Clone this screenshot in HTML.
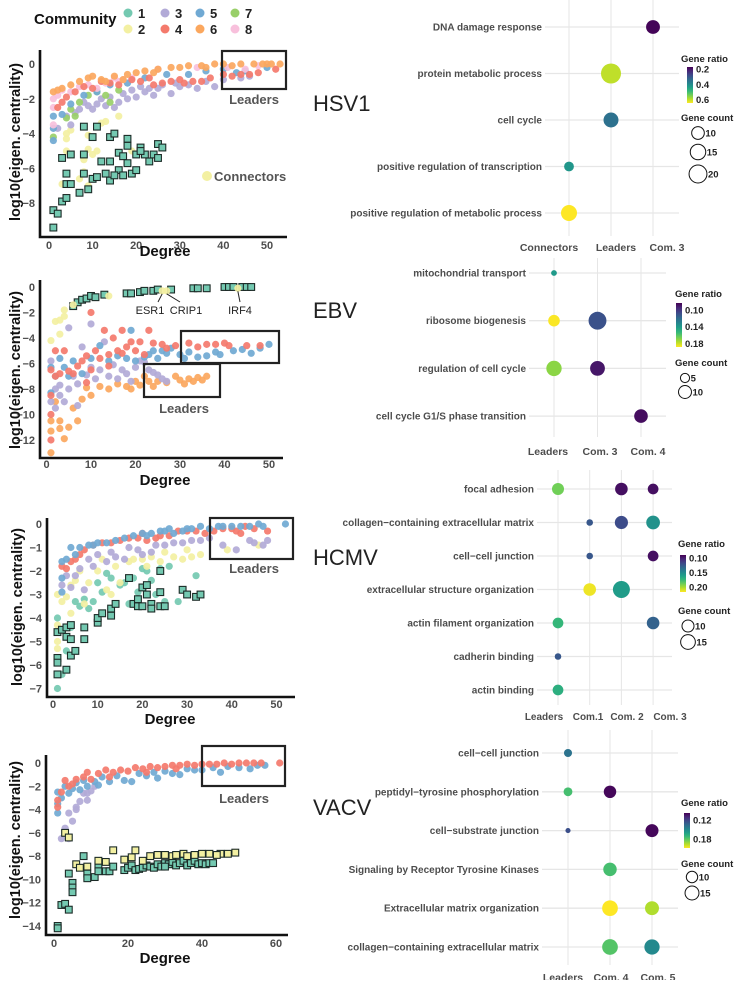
<!DOCTYPE html>
<html><head><meta charset="utf-8">
<style>
body{margin:0;background:#fff;}
svg text{font-family:"Liberation Sans",Arial,sans-serif;}
</style></head>
<body>
<svg id="fig" width="736" height="980" viewBox="0 0 736 980" xmlns="http://www.w3.org/2000/svg"></svg>
<script>
// ===== Scatter data: [degree, log10(eigen centrality)] =====
const hsv_c6=[[1,-1.6],[2,-1.5],[3,-1.4],[5,-1.2],[7,-1],[9,-0.8],[10,-0.7],[12,-0.9],[15,-0.7],[18,-0.6],[20,-0.5],[22,-0.4],[25,-0.3],[28,-0.2],[30,-0.2],[32,-0.1],[35,-0.1],[38,0],[40,0],[42,-0.1],[44,0],[47,0],[49,0],[50,0],[51,0],[53,0],[17,-0.9],[13,-1.0],[24,-0.5],[36,-0.2]];
const hsv_c4=[[2,-2.5],[3,-2.2],[4,-1.9],[6,-1.6],[8,-1.3],[10,-1.4],[12,-1.0],[14,-1.1],[16,-1.2],[19,-0.9],[21,-1.0],[23,-0.8],[26,-1.1],[28,-1.0],[30,-0.9],[33,-1.0],[35,-1.0],[37,-0.8],[40,-0.6],[42,-0.7],[44,-0.6],[46,-0.6],[48,-0.5],[52,-0.3],[24,-1.2],[31,-1.1]];
const hsv_c5=[[1,-3.0],[1,-3.7],[1,-4.4],[3,-2.9],[5,-2.3],[8,-1.8],[11,-1.6],[14,-1.2],[18,-1.1],[22,-0.8],[27,-0.6],[32,-0.6],[36,-0.4],[40,-0.3],[43,-0.5],[45,-0.4],[50,-0.2]];
const hsv_c8=[[1,-2.0],[1,-2.5],[1,-3.5],[2,-1.8],[3,-1.5],[5,-1.6],[7,-1.3],[9,-1.2],[11,-1.4],[13,-1.1],[15,-0.8],[16,-1.0],[17,-0.9],[19,-0.8],[25,-0.3],[34,-0.2],[41,-0.2],[45,-0.3],[48,-0.1]];
const hsv_c7=[[1,-4.2],[4,-3.1],[5,-2.6],[6,-3.0],[7,-2.2],[9,-1.8],[11,-1.6],[13,-1.8],[14,-2.2],[16,-1.5]];
const hsv_c3=[[2,-3.7],[4,-3.0],[5,-3.5],[6,-2.8],[7,-2.6],[8,-2.2],[9,-2.4],[10,-2.6],[11,-2.3],[12,-2.0],[13,-2.4],[14,-1.9],[15,-2.5],[16,-2.2],[17,-1.7],[18,-2.0],[19,-1.5],[20,-1.9],[21,-1.3],[22,-1.6],[23,-1.4],[24,-1.8],[25,-1.4],[26,-1.2],[28,-1.7],[29,-1.1],[30,-1.3],[32,-1.2],[34,-1.4],[36,-1.0],[38,-1.3],[40,-0.9],[44,-0.8],[46,-0.7]];
const hsv_c2=[[3,-6.9],[4,-4.0],[4,-4.3],[4,-5.0],[5,-3.8],[7,-6.6],[8,-5.5],[9,-4.1],[9,-4.9],[9,-7.0],[10,-5.2],[11,-5.0],[12,-3.4],[13,-3.3],[16,-3.0],[19,-5.0],[8,-6.2]];
const hsv_s1=[[1,-8.4],[1,-9.4],[2,-8.6],[3,-7.9],[3,-5.4],[4,-6.3],[4,-7.7],[4,-6.9],[5,-5.2],[5,-6.9],[7,-7.4],[8,-3.6],[8,-5.2],[8,-6.3],[9,-7.2],[10,-4.2],[10,-6.6],[11,-3.6],[11,-6.5],[12,-5.6],[13,-6.3],[14,-4.2],[14,-5.6],[14,-6.7],[15,-4.0],[16,-5.1],[16,-6.1],[17,-5.3],[17,-6.4],[18,-4.3],[18,-4.7],[18,-5.7],[19,-6.3],[20,-5.2],[20,-6.1],[21,-4.8],[22,-5.2],[23,-5.6],[24,-5.2],[25,-5.4],[25,-4.6],[26,-4.8],[21,-5.0],[15,-6.4]];

const ebv_c4=[[1,-6.5],[1,-8.5],[1,-10],[1,-12],[2,-5],[2,-7],[3,-6.8],[4,-5],[5,-6.6],[6,-6.8],[7,-6.2],[8,-5.8],[9,-5.4],[10,-2],[10,-6.5],[11,-5],[12,-5.6],[13,-3.4],[14,-5.3],[15,-4],[16,-5],[17,-3.4],[17,-5.2],[18,-4.7],[19,-4.3],[20,-5],[21,-4.3],[22,-5.3],[23,-3.4],[24,-4.4],[26,-4.5],[27,-4.8],[29,-4.6],[32,-4.4],[34,-4.7],[36,-4.5],[38,-4.5],[40,-4.4],[41,-4.6],[45,-4.6],[48,-4.6],[14,-6.2],[9,-7.5]];
const ebv_c5=[[1,-6.3],[1,-8.3],[2,-7],[3,-5.6],[4,-6.3],[5,-7],[6,-5.8],[8,-6.8],[10,-5.6],[12,-4.6],[14,-5.8],[16,-5.4],[18,-5.6],[19,-3.4],[20,-5.8],[22,-5.5],[23,-5.3],[24,-5],[25,-5.6],[26,-5],[27,-5.2],[28,-4.8],[30,-5.3],[31,-5.6],[32,-5.1],[34,-5.5],[36,-5.4],[38,-5.1],[39,-5.3],[42,-5],[44,-4.9],[46,-5.2],[50,-4.5],[48,-4.8]];
const ebv_c3=[[1,-5.8],[1,-9],[2,-8],[2,-9.5],[3,-7.7],[4,-9],[5,-8],[5,-3.2],[6,-7],[7,-7.6],[8,-4.7],[9,-6.9],[10,-6.3],[10,-2.9],[11,-7.2],[12,-6.5],[13,-4.3],[14,-7],[15,-6.1],[16,-7.2],[17,-6.5],[18,-6.8],[19,-7.4],[20,-6.3],[21,-5.8],[22,-5.9],[23,-6.5],[24,-6.7],[25,-6.9],[26,-7.2],[27,-7.4],[3,-8.5],[7,-9.3]];
const ebv_c6=[[1,-13],[1,-11.3],[1,-10.5],[2,-9],[3,-10.5],[4,-11.9],[5,-11],[6,-9.5],[7,-10.5],[8,-8.8],[9,-7.9],[10,-8.5],[12,-7.8],[14,-8.0],[16,-7.6],[18,-7.8],[19,-8.0],[20,-7.4],[21,-7.7],[22,-7.0],[23,-7.4],[24,-7.8],[25,-7.4],[27,-7.5],[29,-7.0],[30,-7.3],[31,-7.6],[32,-7.2],[33,-7.4],[34,-7.1],[35,-7.3],[36,-7.0],[3,-11.1]];
const ebv_s1=[[6,-1.5],[7,-1.2],[8,-1.0],[9,-0.9],[10,-0.7],[11,-0.8],[13,-0.6],[18,-0.5],[19,-0.5],[21,-0.4],[22,-0.3],[24,-0.3],[25,-0.2],[28,-0.2],[33,-0.1],[34,-0.1],[36,-0.1],[40,0],[41,0],[42,0],[44,0],[45,0],[46,0]];
const ebv_c2=[[1,-4.2],[2,-2.7],[3,-2.6],[3,-3.7],[4,-1.8],[4,-2.3],[6,-1.4],[14,-0.7],[26,-0.3],[27,-0.3],[43,-0.1]];
const ebvGenes=["ESR1","CRIP1","IRF4"];
const ebvGenePts=[[26,-0.3],[27,-0.3],[43,-0.1]];

const hcmv_c5=[[2,-1.6],[2,-2.3],[3,-1.5],[4,-1.0],[5,-1.3],[6,-1.0],[8,-0.9],[9,-0.9],[10,-0.8],[12,-0.8],[14,-0.7],[16,-0.6],[18,-0.5],[20,-0.4],[21,-0.5],[22,-0.4],[24,-0.3],[25,-0.3],[26,-0.2],[27,-0.4],[29,-0.3],[30,-0.2],[31,-0.2],[33,-0.1],[35,-0.2],[37,-0.1],[38,-0.1],[40,-0.1],[42,-0.1],[44,-0.1],[46,0],[47,-0.1],[52,0],[2,-2.9]];
const hcmv_c4=[[2,-1.8],[3,-1.9],[4,-1.6],[5,-1.5],[6,-1.3],[7,-1.1],[9,-0.9],[11,-0.8],[13,-0.8],[15,-0.7],[17,-0.6],[19,-0.6],[20,-0.4],[21,-0.7],[23,-0.6],[24,-0.5],[26,-0.5],[28,-0.3],[30,-0.3],[32,-0.3],[34,-0.4],[36,-0.3],[38,-0.2],[40,-0.2],[41,-0.3],[43,-0.1],[45,-0.2],[48,-0.3],[42,-0.4]];
const hcmv_c3=[[2,-2.6],[3,-2.2],[4,-2.7],[5,-2.2],[6,-1.9],[7,-2.8],[8,-1.5],[9,-1.8],[10,-1.3],[12,-1.6],[13,-1.2],[14,-1.4],[16,-1.5],[17,-1.0],[19,-1.1],[20,-1.3],[22,-1.2],[23,-0.9],[25,-0.9],[27,-0.8],[29,-0.8],[31,-0.7],[33,-0.7],[35,-0.6],[38,-0.9],[44,-0.7],[45,-0.8],[47,-0.9],[41,-1.1],[48,-0.7]];
const hcmv_c2=[[1,-3.0],[1,-4.3],[1,-5.0],[1,-5.3],[2,-3.3],[3,-3.1],[4,-2.6],[4,-3.8],[5,-2.4],[6,-2.0],[7,-3.4],[8,-2.5],[10,-2.0],[11,-1.5],[12,-2.8],[14,-1.8],[15,-2.5],[17,-1.6],[18,-1.5],[20,-1.5],[21,-1.8],[22,-1.4],[24,-1.6],[25,-1.2],[27,-1.4],[29,-1.5],[30,-1.1],[31,-1.4],[33,-1.3],[39,-1.1],[46,-0.9],[13,-3.0]];
const hcmv_c1=[[1,-4.0],[1,-7.0],[2,-6.4],[3,-5.4],[4,-4.4],[5,-3.3],[6,-3.5],[7,-3.2],[8,-3.6],[9,-3.3],[10,-2.5],[11,-2.9],[12,-2.1],[13,-2.3],[15,-2.6],[16,-2.5],[17,-3.4],[18,-2.3],[19,-2.9],[20,-1.9],[21,-2.0],[22,-2.4],[23,-3.0],[24,-1.9],[25,-3.3],[26,-1.8],[28,-3.3],[32,-2.2],[3,-4.8]];
const hcmv_s1=[[1,-4.6],[1,-5.7],[1,-5.9],[1,-6.4],[2,-4.5],[3,-4.4],[3,-4.8],[3,-6.2],[4,-4.3],[4,-4.9],[4,-5.6],[5,-5.4],[7,-4.4],[7,-4.9],[10,-4.2],[10,-4.0],[11,-3.8],[13,-3.6],[13,-3.9],[14,-3.4],[17,-2.3],[18,-3.4],[19,-3.5],[20,-2.7],[20,-3.5],[21,-3.0],[22,-3.4],[22,-3.6],[24,-3.5],[24,-2.9],[25,-3.5],[24,-2.0],[29,-2.8],[30,-3.0],[32,-3.1],[33,-3.0],[19,-3.2],[21,-2.6]];

const vacv_c4=[[1,-3.2],[1,-3.8],[2,-2.5],[3,-1.5],[4,-2.0],[5,-1.8],[6,-1.4],[8,-1.2],[9,-0.8],[10,-1.4],[12,-0.9],[14,-0.6],[16,-0.8],[18,-0.6],[20,-0.7],[22,-0.4],[24,-0.5],[26,-0.3],[28,-0.4],[30,-0.3],[32,-0.2],[34,-0.2],[36,-0.1],[38,-0.2],[40,-0.1],[42,-0.1],[44,-0.1],[46,0],[48,-0.1],[50,0],[52,0],[54,0],[56,0],[61,0],[25,-0.8],[33,-0.5],[15,-1.2]];
const vacv_c5=[[1,-2.5],[1,-3.5],[1,-4.3],[2,-3.0],[3,-2.0],[4,-2.6],[5,-2.2],[6,-1.7],[7,-2.3],[8,-1.5],[9,-2.0],[11,-1.6],[13,-1.2],[15,-1.6],[17,-1.1],[19,-1.5],[21,-1.6],[23,-0.9],[25,-1.1],[27,-0.8],[28,-1.3],[30,-0.7],[32,-0.9],[34,-1.0],[36,-0.5],[38,-0.6],[40,-0.6],[43,-0.4],[45,-0.8],[47,-0.3],[50,-0.4],[53,-0.5],[55,-0.2],[57,-0.2],[12,-1.9]];
const vacv_c3=[[2,-6.5],[3,-5.6],[4,-4.3],[5,-5.0],[6,-3.8],[6,-4.0],[7,-3.3],[8,-2.6],[9,-2.6],[9,-3.2],[10,-2.4],[11,-2.0],[4,-6.5]];
const vacv_s1=[[1,-14],[1,-14.2],[2,-12.2],[3,-12.1],[4,-12.6],[4,-9.5],[5,-10.3],[5,-10.7],[5,-11.1],[8,-8.0],[9,-9.5],[9,-9.9],[11,-9.8],[12,-8.8],[12,-9.3],[14,-9.3],[15,-9.3],[16,-8.9],[19,-9.2],[20,-9.0],[21,-8.8],[22,-9.2],[23,-9.1],[24,-9.0],[25,-8.8],[26,-8.9],[27,-9.0],[28,-8.7],[29,-8.9],[30,-8.6],[31,-8.7],[32,-8.5],[33,-8.8],[34,-8.6],[35,-8.4],[36,-8.8],[37,-8.6],[38,-8.4],[39,-8.7],[40,-8.6],[41,-8.7],[42,-8.6],[43,-8.6],[30,-8.9]];
const vacv_s2=[[3,-6.0],[4,-6.4],[6,-8.7],[7,-9.0],[9,-8.9],[12,-8.4],[14,-8.5],[16,-7.5],[19,-8.3],[21,-8.1],[22,-7.5],[24,-8.4],[26,-8.0],[28,-7.9],[30,-7.9],[32,-8.0],[33,-7.9],[35,-7.8],[36,-8.0],[38,-7.9],[40,-7.8],[42,-7.8],[45,-7.8],[47,-7.8],[49,-7.7],[44,-7.9]];

// ===== Dot-plot data =====
const hsvTerms=["DNA damage response","protein metabolic process","cell cycle","positive regulation of transcription","positive regulation of metabolic process"];
const hsvGroups=["Connectors","Leaders","Com. 3"];
const hsvDotRow=[0,1,2,3,4];
const hsvDotCol=[2,1,1,0,0];
const hsvRatio=[0.18,0.6,0.35,0.42,0.645];
const hsvCount=[12,25,14,6,16];

const ebvTerms=["mitochondrial transport","ribosome biogenesis","regulation of cell cycle","cell cycle G1/S phase transition"];
const ebvGroups=["Leaders","Com. 3","Com. 4"];
const ebvDotRow=[0,1,1,2,2,3];
const ebvDotCol=[0,0,1,0,1,2];
const ebvRatio=[0.14,0.188,0.11,0.17,0.09,0.087];
const ebvCount=[2,8,19,14,13,11];

const hcmvTerms=["focal adhesion","collagen\u2212containing extracellular matrix","cell\u2212cell junction","extracellular structure organization","actin filament organization","cadherin binding","actin binding"];
const hcmvGroups=["Leaders","Com.1","Com. 2","Com. 3"];
const hcmvDotRow=[0,0,0,1,1,1,2,2,3,3,4,4,5,6];
const hcmvDotCol=[0,2,3,1,2,3,1,3,1,2,0,3,0,0];
const hcmvRatio=[0.19,0.095,0.095,0.125,0.12,0.155,0.125,0.095,0.215,0.16,0.175,0.13,0.125,0.17];
const hcmvCount=[10,11,8,3,12,13,3,8,11,20,8,11,3,8];

const vacvTerms=["cell\u2212cell junction","peptidyl\u2212tyrosine phosphorylation","cell\u2212substrate junction","Signaling by Receptor Tyrosine Kinases","Extracellular matrix organization","collagen\u2212containing extracellular matrix"];
const vacvGroups=["Leaders","Com. 4","Com. 5"];
const vacvDotRow=[0,1,1,2,2,3,4,4,5,5];
const vacvDotCol=[0,0,1,0,2,1,1,2,1,2];
const vacvRatio=[0.14,0.175,0.1,0.125,0.1,0.175,0.208,0.195,0.178,0.15];
const vacvCount=[5,6,12,2,13,14,19,15,19,18];

// ===== helpers =====
const NS="http://www.w3.org/2000/svg";
const svg=document.getElementById('fig');
function mk(tag,attrs,parent){const e=document.createElementNS(NS,tag);for(const k in attrs)e.setAttribute(k,attrs[k]);(parent||svg).appendChild(e);return e;}
function txt(s,x,y,attrs,parent){const e=mk('text',Object.assign({x:x,y:y},attrs),parent);e.textContent=s;return e;}
const COL={1:'#74c9b1',2:'#f3f0a2',3:'#b2aad7',4:'#f47a6c',5:'#70a9d3',6:'#fba75e',7:'#99cf69',8:'#f8c0dc'};
const VIR=['#440154','#482878','#3e4989','#31688e','#26828e','#1f9e89','#35b779','#6ece58','#b5de2b','#fde725'];
function hex(c){return [parseInt(c.slice(1,3),16),parseInt(c.slice(3,5),16),parseInt(c.slice(5,7),16)];}
function viridis(t){t=Math.max(0,Math.min(1,t));const p=t*(VIR.length-1);const i=Math.min(Math.floor(p),VIR.length-2);const f=p-i;const a=hex(VIR[i]),b=hex(VIR[i+1]);return 'rgb('+a.map((v,k)=>Math.round(v+(b[k]-v)*f)).join(',')+')';}

function scatter(cfg){
  const g=mk('g',{});
  
  
  const X=d=>cfg.x0+d*cfg.xs, Y=v=>cfg.y0-v*cfg.ys;
  cfg.series.forEach(s=>{
    s.data.forEach(p=>{
      let el;
      if(s.square){el=mk('rect',{x:X(p[0])-3.4,y:Y(p[1])-3.4,width:6.8,height:6.8,fill:COL[s.c],stroke:'#1c2b27','stroke-width':1.1},g);}
      else{el=mk('circle',{cx:X(p[0]),cy:Y(p[1]),r:3.6,fill:COL[s.c],'fill-opacity':0.92},g);}
      
      
    });
  });
  const ax=mk('path',{d:`M${cfg.left},${cfg.top} V${cfg.bottom} H${cfg.right}`,fill:'none',stroke:'#111','stroke-width':2.6},g);
  
  
  cfg.xticks.forEach(t=>{const e=txt(t,X(t),cfg.xlabY,{'text-anchor':'middle','font-size':11,'font-weight':'bold',fill:'#4d4d4d'},g);
    
    });
  cfg.yticks.forEach(t=>{const e=txt(t===0?'0':'\u2212'+Math.abs(t),cfg.left-5,Y(t)+4,{'text-anchor':'end','font-size':11,'font-weight':'bold',fill:'#4d4d4d'},g);
    
    });
  const xt=txt('Degree',cfg.xtitleX,cfg.xtitleY,{'text-anchor':'middle','font-size':15,'font-weight':'bold',fill:'#111'},g);
  
  
  const yt=txt('log10(eigen. centrality)',0,0,{'text-anchor':'middle','font-size':14.5,'font-weight':'bold',fill:'#111',transform:`translate(${cfg.ytitleX},${cfg.ytitleY}) rotate(-90)`},g);
  
  
  cfg.boxes.forEach(b=>{const r=mk('rect',{x:b[0],y:b[1],width:b[2]-b[0],height:b[3]-b[1],fill:'none',stroke:'#222','stroke-width':2.2},g);
    
    });
  const lt=txt('Leaders',cfg.leadX,cfg.leadY,{'text-anchor':'middle','font-size':13,'font-weight':'bold',fill:'#555'},g);
  
  
  const pl=txt(cfg.title,313,cfg.titleY,{'font-size':22,fill:'#222'},g);
  
  
  return {g,X,Y};
}

function dotplot(cfg){
  const g=mk('g',{});
  
  
  const rowY=i=>cfg.rowTop+i*cfg.rowStep, colX=j=>cfg.colLeft+j*cfg.colStep;
  const rad=c=>cfg.k*Math.sqrt(c);
  const col=r=>viridis((r-cfg.rmin)/(cfg.rmax-cfg.rmin));
  cfg.groups.forEach((s,j)=>{const l=mk('line',{x1:colX(j),x2:colX(j),y1:cfg.vTop,y2:cfg.vBot,stroke:'#e6e6e6','stroke-width':1},g);
    
    });
  cfg.terms.forEach((s,i)=>{const l=mk('line',{x1:cfg.labelX+3,x2:cfg.gridR,y1:rowY(i),y2:rowY(i),stroke:'#e6e6e6','stroke-width':1.3},g);
    
    
    const t=txt(s,cfg.labelX,rowY(i)+3.5,{'text-anchor':'end','font-size':10,'font-weight':'bold',fill:'#4d4d4d'},g);
    
    });
  cfg.groups.forEach((s,j)=>{const t=txt(s,cfg.glabX[j],cfg.glabY,{'text-anchor':'middle','font-size':cfg.gfs,'font-weight':'bold',fill:'#4d4d4d'},g);
    
    });
  cfg.row.forEach((r,i)=>{const c=mk('circle',{cx:colX(cfg.col[i]),cy:rowY(r),r:rad(cfg.count[i]),fill:col(cfg.ratio[i])},g);
    
    });
  const L=cfg.leg;
  const t1=txt('Gene ratio',L.x,L.y,{'font-size':9.5,'font-weight':'bold',fill:'#222'},g);
  
  
  const gid='grad'+cfg.name;
  const defs=mk('defs',{},g);const lg=mk('linearGradient',{id:gid,x1:0,y1:0,x2:0,y2:1},defs);
  VIR.forEach((c,i)=>mk('stop',{offset:(i/(VIR.length-1)),'stop-color':c},lg));
  const bar=mk('rect',{x:L.bx,y:L.by0,width:6,height:L.by1-L.by0,fill:`url(#${gid})`},g);
  
  
  L.ticks.forEach(t=>{const yy=L.by0+(t-cfg.rmin)/(cfg.rmax-cfg.rmin)*(L.by1-L.by0);
    const e=txt(t.toFixed(L.dec),L.bx+9,yy+3.5,{'font-size':9.5,'font-weight':'bold',fill:'#222'},g);
    
    });
  const t2=txt('Gene count',L.x,L.cy,{'font-size':9.5,'font-weight':'bold',fill:'#222'},g);
  
  
  L.sizes.forEach((s,i)=>{const yy=L.sy[i];
    const c=mk('circle',{cx:L.sx,cy:yy,r:rad(s),fill:'none',stroke:'#111','stroke-width':1},g);
    
    
    const e=txt(String(s),L.sx+rad(s)+1,yy+3.5,{'font-size':9.5,'font-weight':'bold',fill:'#222'},g);
    
    });
}

// ===== HSV1 legend =====
const lgd=mk('g',{});


const lt=txt('Community',34,24,{'font-size':15,'font-weight':'bold',fill:'#111'},lgd);


[[1,128,13],[2,128,29],[3,165,13],[4,165,29],[5,200,13],[6,200,29],[7,235,13],[8,235,29]].forEach(e=>{
  const c=mk('circle',{cx:e[1],cy:e[2],r:4.5,fill:COL[e[0]]},lgd);
  
  
  const t=txt(String(e[0]),e[1]+10,e[2]+5,{'font-size':13,'font-weight':'bold',fill:'#222'},lgd);
  
  
});

// ===== Panels =====
scatter({name:'hsv1-scatter',title:'HSV1',titleY:111,x0:49,xs:4.36,y0:64,ys:17.4,left:40,top:50,bottom:237,right:287,
  xticks:[0,10,20,30,40,50],yticks:[0,-2,-4,-6,-8],xlabY:249,xtitleX:165,xtitleY:256,ytitleX:20,ytitleY:142,
  boxes:[[222,51,286,89]],leadX:254,leadY:104,
  series:[{data:hsv_c2,c:2},{data:hsv_c3,c:3},{data:hsv_c7,c:7},{data:hsv_c5,c:5},{data:hsv_c8,c:8},{data:hsv_c4,c:4},{data:hsv_c6,c:6},{data:hsv_s1,c:1,square:true}]});
const cd=mk('circle',{cx:207,cy:176,r:5,fill:COL[2]});


const ct=txt('Connectors',214,181,{'font-size':13,'font-weight':'bold',fill:'#555'});



const p2=scatter({name:'ebv-scatter',title:'EBV',titleY:318,x0:46.5,xs:4.45,y0:287,ys:12.75,left:40,top:280,bottom:458,right:283,
  xticks:[0,10,20,30,40,50],yticks:[0,-2,-4,-6,-8,-10,-12],xlabY:468,xtitleX:165,xtitleY:485,ytitleX:20,ytitleY:370,
  boxes:[[181,331,279,363],[144,364,220,397]],leadX:184,leadY:413,
  series:[{data:ebv_c6,c:6},{data:ebv_c3,c:3},{data:ebv_c5,c:5},{data:ebv_c4,c:4},{data:ebv_s1,c:1,square:true},{data:ebv_c2,c:2}]});
ebvGenes.forEach((s,i)=>{const p=ebvGenePts[i];const lx=[150,186,240][i];
  const l=mk('line',{x1:p2.X(p[0]),y1:p2.Y(p[1])+3,x2:lx+(i===0?8:(i===1?-6:0)),y2:302,stroke:'#222','stroke-width':1});
  
  
  const t=txt(s,lx,314,{'text-anchor':'middle','font-size':11,fill:'#222'});
  
  });

scatter({name:'hcmv-scatter',title:'HCMV',titleY:565,x0:53,xs:4.47,y0:524,ys:23.5,left:47,top:518,bottom:697,right:295,
  xticks:[0,10,20,30,40,50],yticks:[0,-1,-2,-3,-4,-5,-6,-7],xlabY:708,xtitleX:170,xtitleY:724,ytitleX:22,ytitleY:607,
  boxes:[[210,518,293,559]],leadX:254,leadY:573,
  series:[{data:hcmv_c1,c:1},{data:hcmv_c2,c:2},{data:hcmv_c3,c:3},{data:hcmv_c4,c:4},{data:hcmv_c5,c:5},{data:hcmv_s1,c:1,square:true}]});

scatter({name:'vacv-scatter',title:'VACV',titleY:815,x0:54,xs:3.7,y0:763,ys:11.64,left:46,top:755,bottom:935,right:288,
  xticks:[0,20,40,60],yticks:[0,-2,-4,-6,-8,-10,-12,-14],xlabY:947,xtitleX:165,xtitleY:963,ytitleX:20,ytitleY:840,
  boxes:[[202,746,285,786]],leadX:244,leadY:803,
  series:[{data:vacv_c3,c:3},{data:vacv_c5,c:5},{data:vacv_c4,c:4},{data:vacv_s1,c:1,square:true},{data:vacv_s2,c:2,square:true}]});

dotplot({name:'hsv1-dotplot',terms:hsvTerms,groups:hsvGroups,row:hsvDotRow,col:hsvDotCol,ratio:hsvRatio,count:hsvCount,
  rowTop:27,rowStep:46.5,colLeft:569,colStep:42,labelX:542,gridR:679,vTop:0,vBot:236,glabX:[549,616,667],glabY:251,gfs:10.5,k:2,rmin:0.174,rmax:0.645,
  leg:{x:681,y:62,bx:687,by0:67,by1:103,ticks:[0.2,0.4,0.6],dec:1,cy:121,sx:698,sy:[133,152,174],sizes:[10,15,20]}});
dotplot({name:'ebv-dotplot',terms:ebvTerms,groups:ebvGroups,row:ebvDotRow,col:ebvDotCol,ratio:ebvRatio,count:ebvCount,
  rowTop:273,rowStep:47.7,colLeft:554,colStep:43.5,labelX:526,gridR:666,vTop:258,vBot:437,glabX:[548,600,648],glabY:455,gfs:10.5,k:2.05,rmin:0.0835,rmax:0.1885,
  leg:{x:675,y:297,bx:676,by0:303,by1:347,ticks:[0.10,0.14,0.18],dec:2,cy:366,sx:685,sy:[378,392],sizes:[5,10]}});
dotplot({name:'hcmv-dotplot',terms:hcmvTerms,groups:hcmvGroups,row:hcmvDotRow,col:hcmvDotCol,ratio:hcmvRatio,count:hcmvCount,
  rowTop:489,rowStep:33.5,colLeft:558,colStep:31.7,labelX:534,gridR:672,vTop:470,vBot:705,glabX:[544,588,627,670],glabY:720,gfs:10,k:1.9,rmin:0.09,rmax:0.218,
  leg:{x:678,y:547,bx:680,by0:555,by1:592,ticks:[0.10,0.15,0.20],dec:2,cy:614,sx:688,sy:[626,642],sizes:[10,15]}});
dotplot({name:'vacv-dotplot',terms:vacvTerms,groups:vacvGroups,row:vacvDotRow,col:vacvDotCol,ratio:vacvRatio,count:vacvCount,
  rowTop:753,rowStep:38.8,colLeft:568,colStep:42,labelX:539,gridR:678,vTop:730,vBot:965,glabX:[563,611,658],glabY:981,gfs:10.5,k:1.8,rmin:0.098,rmax:0.208,
  leg:{x:681,y:806,bx:684,by0:813,by1:848,ticks:[0.12,0.18],dec:2,cy:867,sx:692,sy:[877,893],sizes:[10,15]}});
</script>
</body></html>
